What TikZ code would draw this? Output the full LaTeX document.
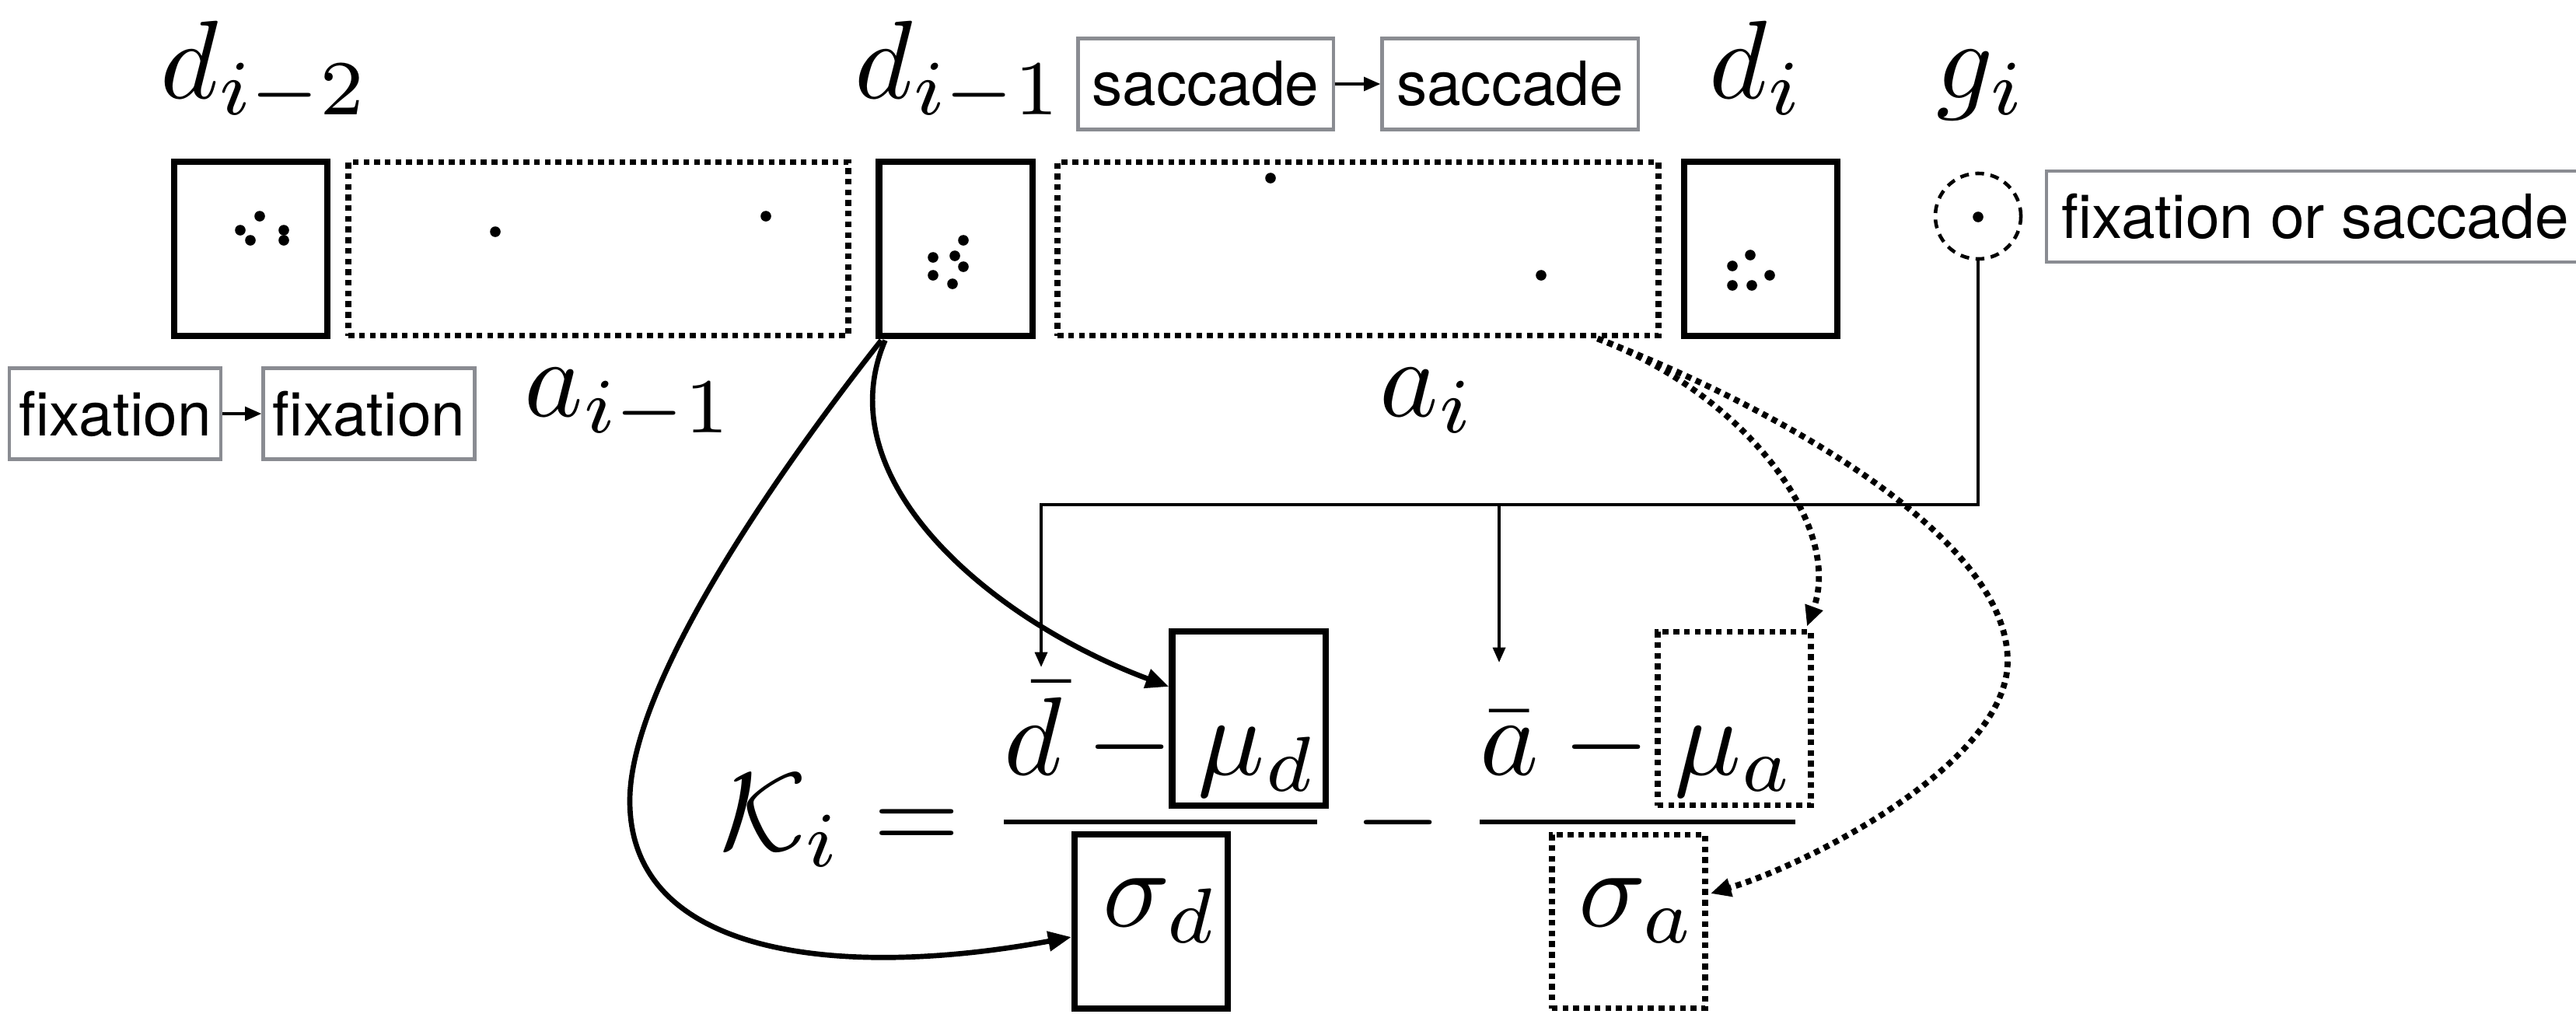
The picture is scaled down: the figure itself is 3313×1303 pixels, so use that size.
\documentclass[tikz,border=0pt]{standalone}
\usepackage[no-math]{fontspec}
\usepackage{graphicx}
\usetikzlibrary{arrows.meta,calc}
\newfontfamily\heros{TeX Gyre Heros}
\definecolor{boxgray}{RGB}{138,140,146}
\newcommand{\Mx}[1]{\scalebox{4.07}{$#1$}}
\begin{document}
\begin{tikzpicture}[x=0.01cm,y=-0.01cm,
  thickbox/.style={draw, line width=2.3pt, minimum width=1.97cm, minimum height=2.23cm, inner sep=0pt},
  dotbox/.style={draw, line width=2.2pt, dash pattern=on 2.1pt off 1.8pt, minimum height=2.23cm, inner sep=0pt},
  graybox/.style={draw=boxgray, line width=1.2pt, minimum height=1.17cm, inner sep=0pt, font=\heros\fontsize{22.3}{27}\selectfont},
  mlabel/.style={inner sep=0pt},
  solidarrow/.style={line width=1.9pt, -{Triangle[length=8.5pt,width=7pt]}},
  dotarrow/.style={line width=2.2pt, dash pattern=on 2.1pt off 1.8pt, -{Triangle[length=7.5pt,width=6.5pt]}},
  thinarrow/.style={line width=1.1pt, -{Triangle[length=5.5pt,width=4.5pt]}},
  grayarrow/.style={line width=1pt, -{Triangle[length=6pt,width=5pt]}}
]
\useasboundingbox (0,0) rectangle (3313,1303);
\fill[white] (0,0) rectangle (3313,1303);
\clip (0,0) rectangle (3313,1303);

% top row of boxes
\node[thickbox] (dA) at (322.5,320) {};
\node[dotbox, minimum width=6.42cm] (aA) at (769.5,320) {};
\node[thickbox] (dB) at (1229,320) {};
\node[dotbox, minimum width=7.72cm] (aB) at (1746.5,320) {};
\node[thickbox] (dC) at (2264.5,320) {};
\node[draw, circle, line width=1.3pt, dash pattern=on 3.2pt off 2.4pt, minimum size=1.10cm, inner sep=0pt] (g) at (2544,278) {};

% dots
\foreach \p in {(334,278),(309,296),(322,309),(365,296),(365,309),
                (637,298),(985,278),
                (1239,309),(1200,331),(1228,329),(1239,343),(1200,354),(1225,365),
                (1634,229),(1982,354),
                (2251,328),(2228,342),(2276,354),(2228,367),(2253,367),
                (2544,279)}
  \fill \p circle[radius=0.068cm];

% math labels
\node[mlabel, anchor=base west] (ldA) at (206,126) {\Mx{d_{i-2}}};
\node[mlabel, anchor=base west] (ldB) at (1099,126) {\Mx{d_{i-1}}};
\node[mlabel, anchor=base west] (ldC) at (2198,126) {\Mx{d_{i}}};
\node[mlabel, anchor=base west] (lg) at (2490,126) {\Mx{g_{i}}};
\node[mlabel, anchor=base west] (laA) at (674,535) {\Mx{a_{i-1}}};
\node[mlabel, anchor=base west] (laB) at (1774,535) {\Mx{a_{i}}};

% gray text boxes
\node[graybox, minimum width=2.72cm] (fx1) at (148.25,532) {fixation};
\node[graybox, minimum width=2.72cm] (fx2) at (474.5,532) {fixation};
\node[graybox, minimum width=3.28cm] (sc1) at (1550.5,108) {saccade};
\node[graybox, minimum width=3.29cm] (sc2) at (1942,108) {saccade};
\node[graybox, minimum width=6.9cm, anchor=west] (fos) at (2630,278.5) {fixation or saccade};
\draw[grayarrow] (fx1) -- (fx2);
\draw[grayarrow] (sc1) -- (sc2);

% formula
\node[mlabel, anchor=base west] (K) at (926,1093)
  {\Mx{\displaystyle \mathcal{K}_i = \frac{\bar{d}-\mu_d}{\sigma_d} - \frac{\bar{a}-\mu_a}{\sigma_a}}};
\node[thickbox] (mud) at (1606,924) {};
\node[thickbox] (sigd) at (1480.5,1185) {};
\node[dotbox, minimum width=1.97cm] (mua) at (2230.5,924) {};
\node[dotbox, minimum width=1.97cm] (siga) at (2094.5,1185) {};

% connectors from g
\coordinate (hl) at (1339,649);
\coordinate (dbar) at (1339,858);
\coordinate (abar) at (1928,852);
\draw[thinarrow] (g.south) |- (hl) -- (dbar);
\draw[thinarrow] (abar |- hl) -- (abar);

% solid curves from d_{i-1}
\draw[solidarrow] ($(dB.south west)+(12,2)$) .. controls (1060,620) and (1280,800) .. ($(mud.west)+(0,-41)$);
\draw[solidarrow] ($(dB.south west)+(7,2)$) .. controls (1050,543) and (810,860) .. (810,1030)
   .. controls (810,1230) and (1080,1260) .. ($(sigd.west)+(0,20)$);

% dotted curves from a_i
\draw[dotarrow] ($(aB.south east)+(-82,0)$) .. controls (2250,510) and (2370,680) .. ($(mua.north east)+(-9,-3)$);
\draw[dotarrow] ($(aB.south east)+(-82,0)$) .. controls (2250,510) and (2582,680) .. (2582,850)
   .. controls (2582,980) and (2330,1110) .. ($(siga.east)+(3,-36)$);
\end{tikzpicture}
\end{document}
